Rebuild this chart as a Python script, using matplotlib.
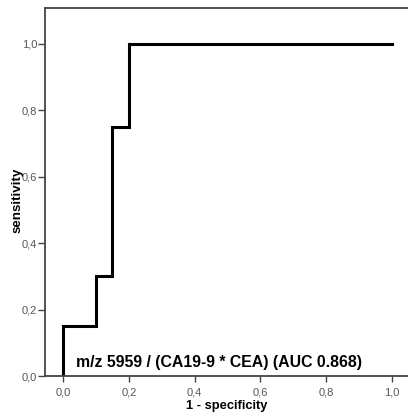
import matplotlib
matplotlib.use("Agg")
import matplotlib.pyplot as plt
from matplotlib.ticker import FuncFormatter

fpr = [0.0, 0.0, 0.1, 0.1, 0.15, 0.15, 0.2, 0.2, 1.0]
tpr = [0.0, 0.15, 0.15, 0.30, 0.30, 0.75, 0.75, 1.0, 1.0]
ticks = [0.0, 0.2, 0.4, 0.6, 0.8, 1.0]
label = "m/z 5959 / (CA19-9 * CEA) (AUC 0.868)"

plt.rcParams["font.family"] = ["Liberation Sans", "DejaVu Sans"]

W, H = 408, 417
fig = plt.figure(figsize=(W/100, H/100), dpi=100)
ax = fig.add_axes([45/W, 1-376/H, (W-45)/W, (376-8)/H])
ax.plot(fpr, tpr, color="black", lw=2.2, solid_joinstyle="miter")
ax.set_xlim(-0.055, 1.049)
ax.set_ylim(0, 1.108)
ax.set_xticks(ticks)
ax.set_yticks(ticks)
fmt = FuncFormatter(lambda v, p: f"{v:.1f}".replace(".", ","))
ax.xaxis.set_major_formatter(fmt)
ax.yaxis.set_major_formatter(fmt)
for s in ["left", "bottom", "top"]:
    ax.spines[s].set_color("#444444")
    ax.spines[s].set_linewidth(1.3)
ax.spines["right"].set_visible(False)
ax.tick_params(axis="both", direction="out", width=1, color="#444444",
               labelsize=8, labelcolor="#555555")
ax.tick_params(axis="x", length=4, pad=4)
ax.tick_params(axis="y", length=5, pad=0.5)
ax.set_xlabel("1 - specificity", fontsize=9.3, fontweight="bold", labelpad=2)
ax.set_ylabel("sensitivity", fontsize=9.6, fontweight="bold", labelpad=-1, y=0.478)
ax.text(0.04, 0.042, label, fontsize=11.4, fontweight="bold", ha="left", va="center")
fig.savefig("out.png", dpi=100)
